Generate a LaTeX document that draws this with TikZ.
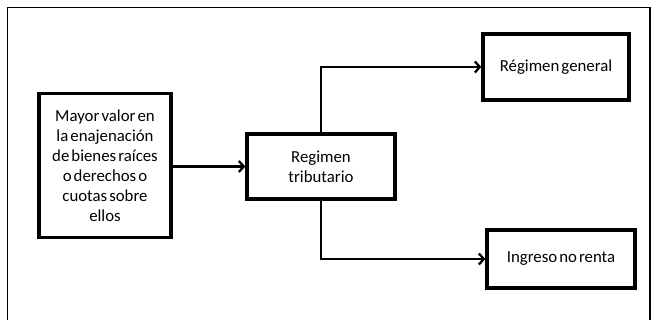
\documentclass[tikz,border=0pt]{standalone}
\usepackage{fontspec}
\setmainfont[WordSpace=0.55]{Carlito}
\usetikzlibrary{arrows.meta}
\begin{document}
\begin{tikzpicture}[x=1pt,y=1pt,
  box/.style={draw=black, line width=3.2pt, align=center, inner sep=0pt, font=\fontsize{16.8}{20}\selectfont},
  conn/.style={line width=2.3pt, -{Straight Barb[length=5pt,width=11pt,line width=2.3pt]}}]
\clip (0,0) rectangle (658,-320);
\useasboundingbox (0,0) rectangle (658,-320);
\fill[white] (0,0) rectangle (658,-320);
\draw[line width=1.2pt] (7.5,-330) -- (7.5,-7.5) -- (650,-7.5) -- (650,-330);
\node[box, minimum width=132pt, minimum height=144pt] (src) at (105,-165.5) {Mayor valor en\\la enajenación\\de bienes raíces\\o derechos o\\cuotas sobre\\ellos};
\node[box, minimum width=148pt, minimum height=65pt] (reg) at (321,-166.5) {Regimen\\tributario};
\node[box, minimum width=146pt, minimum height=66pt] (gen) at (556,-67) {Régimen general};
\node[box, minimum width=148pt, minimum height=58pt] (ing) at (561,-259) {Ingreso no renta};
\draw[conn] (src.east |- reg.west) -- (reg.west);
\draw[conn] (reg.north) |- (gen.west);
\draw[conn] (reg.south) |- (ing.west);
\end{tikzpicture}
\end{document}
